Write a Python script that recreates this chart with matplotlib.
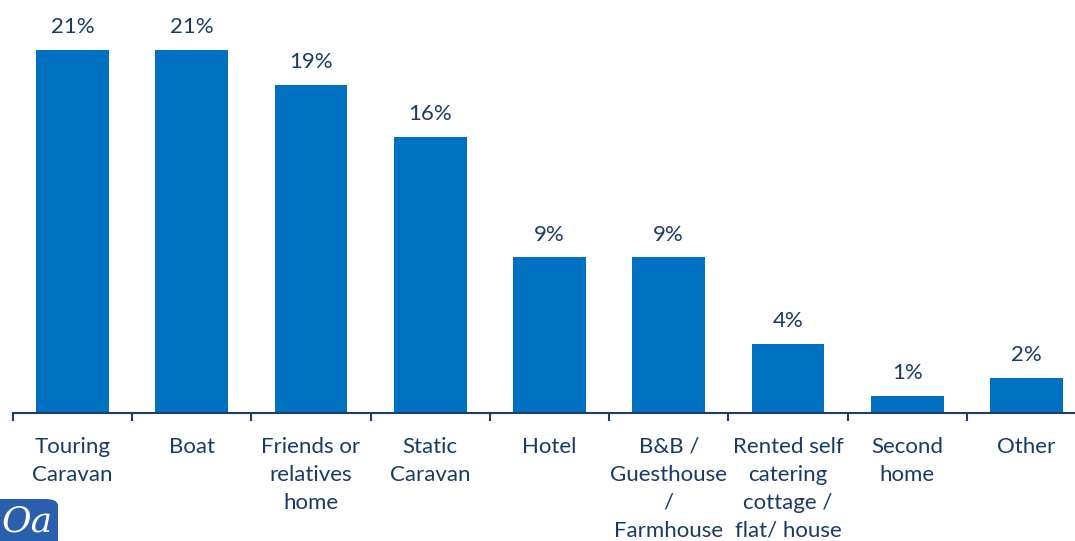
import matplotlib.pyplot as plt
from matplotlib.patches import FancyBboxPatch
from matplotlib.ticker import FixedLocator, NullLocator

# Accommodation type shares
categories = [
    "Touring\nCaravan", "Boat", "Friends or\nrelatives\nhome", "Static\nCaravan",
    "Hotel", "B&B /\nGuesthouse\n/\nFarmhouse", "Rented self\ncatering\ncottage /\nflat/ house",
    "Second\nhome", "Other",
]
values = [21, 21, 19, 16, 9, 9, 4, 1, 2]

bar_color = "#0070C0"
text_color = "#1A3A66"
axis_color = "#1F3C6E"

plt.rcParams["font.family"] = ["Lato", "DejaVu Sans"]

fig = plt.figure(figsize=(10.75, 5.41), dpi=100)
# the category band runs a little past the right edge of the figure
ax = fig.add_axes([13 / 1075, 128 / 541, 1073 / 1075, 1 - 128 / 541])

x = list(range(len(values)))
bars = ax.bar(x, values, width=0.61, color=bar_color, zorder=2)

for b, v in zip(bars, values):
    ax.text(b.get_x() + b.get_width() / 2, v + 0.75, f"{v}%",
            ha="center", va="bottom", fontsize=16, color=text_color)

ax.set_xlim(-0.5, len(values) - 0.5)
ax.set_ylim(0, 23.9)

for s in ["top", "right", "left"]:
    ax.spines[s].set_visible(False)
ax.spines["bottom"].set_color(axis_color)
ax.spines["bottom"].set_linewidth(1.5)
ax.yaxis.set_major_locator(NullLocator())

ax.set_xticks(x)
ax.set_xticklabels(categories, fontsize=16, color=text_color, linespacing=1.5)
ax.tick_params(axis="x", which="major", length=0, pad=17)
ax.xaxis.set_minor_locator(FixedLocator([i - 0.5 for i in range(len(values) + 1)]))
ax.tick_params(axis="x", which="minor", length=6, width=1.5, color=axis_color)

# small logo badge in the bottom-left corner
logo = FancyBboxPatch((-12 / 1075, -10 / 541), 70 / 1075, 52 / 541,
                      boxstyle="round,pad=0,rounding_size=0.012",
                      transform=fig.transFigure, facecolor="#2A5FAE",
                      edgecolor="none", zorder=0)
fig.patches.append(logo)
fig.text(2 / 1075, 2 / 541, "Oa", fontsize=26, color="white", style="italic",
         family="DejaVu Serif", ha="left", va="bottom")

fig.savefig("out.png", dpi=100)
